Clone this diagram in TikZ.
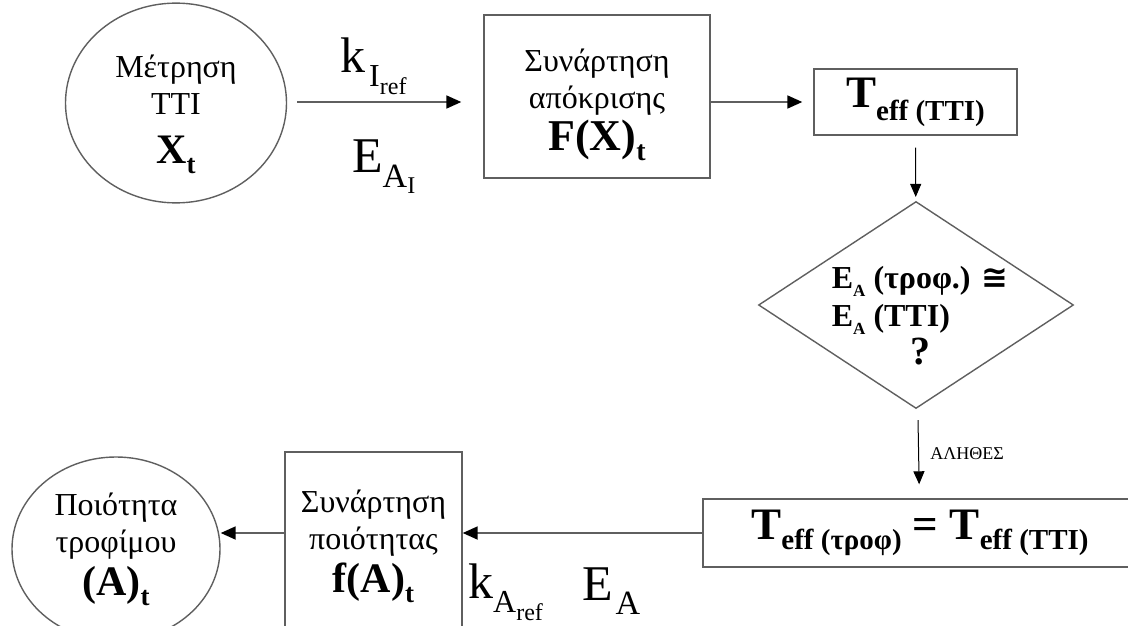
\documentclass[tikz,border=0pt]{standalone}
\usepackage{fontspec}
\setmainfont{Liberation Serif}
\newfontfamily\symfont{DejaVu Sans}
\usepackage{tikz}
\usetikzlibrary{positioning,shapes.geometric,arrows.meta}
\definecolor{edgegray}{RGB}{95,95,95}
\newcommand{\lowsub}[3]{\raisebox{-#1}{\fontsize{#2}{#2}\selectfont #3}}

\begin{document}
\begin{tikzpicture}[x=1pt,y=1pt,
  startnode/.style={ellipse,draw=edgegray,line width=1.4pt,inner sep=0pt,align=center,font=\fontsize{32}{37}\selectfont},
  funcbox/.style={rectangle,draw=edgegray,line width=1.4pt,inner sep=0pt,align=center,font=\fontsize{32}{37}\selectfont},
  check/.style={diamond,draw=edgegray,line width=1.4pt,inner sep=0pt},
  flow/.style={draw=edgegray,line width=1.8pt,-{Triangle[length=15pt,width=13pt,color=black]}},
  thinflow/.style={draw=black,line width=1pt,-{Triangle[length=13pt,width=11pt]}},
  rate/.style={anchor=base west,inner sep=0pt,font=\fontsize{50}{50}\selectfont}
]
\useasboundingbox (0,0) rectangle (1128,-626);
\clip (0,0) rectangle (1128,-626);
% top row
\node[startnode,minimum width=221pt,minimum height=177pt] (meas) at (176,-103) {\rule{0pt}{45pt}Μέτρηση\\TTI\\[12pt]{\bfseries\fontsize{42}{42}\selectfont X\lowsub{10pt}{27}{t}}};
\node[funcbox,minimum width=226pt,minimum height=163pt] (respfn) at (597,-96.5) {\rule{0pt}{39pt}Συνάρτηση\\απόκρισης\\[4pt]{\bfseries\fontsize{44}{44}\selectfont F(X)\lowsub{10pt}{28}{t}}};
\node[funcbox,minimum width=203pt,minimum height=66pt,font=\bfseries\fontsize{45}{45}\selectfont] (teffTTI) at (915.5,-102) {T\lowsub{13pt}{29}{eff (TTI)}};
\node[rate] (kI) at (340,-73) {k\kern4pt\lowsub{14pt}{32}{I\lowsub{8pt}{24}{ref}}};
\node[rate] (EI) at (352,-172) {E\lowsub{15pt}{34}{A\lowsub{6pt}{24}{I}}};
\draw[flow,shorten <=10pt,shorten >=22pt] (meas.east |- teffTTI) -- (respfn.west |- teffTTI);
\draw[flow,shorten >=11pt] (respfn.east |- teffTTI) -- (teffTTI.west);
% decision
\node[check,minimum width=315pt,minimum height=207pt,label={[font=\bfseries\fontsize{32}{38}\selectfont,yshift=-14pt,xshift=4pt]center:{\begin{tabular}{@{}l@{}}E\lowsub{8pt}{17}{A} (τροφ.) {\symfont ≅}\\E\lowsub{8pt}{17}{A} (TTI)\\\multicolumn{1}{@{}c@{}}{\fontsize{40}{40}\selectfont ?}\end{tabular}}}] (check) at (916,-305) {};
\draw[thinflow,shorten <=12pt,shorten >=4pt] (teffTTI) -- (check);
% bottom row
\node[funcbox,minimum width=434pt,minimum height=68pt,font=\bfseries\fontsize{45}{45}\selectfont] (teffEq) at (920,-533) {T\lowsub{10pt}{29}{eff (τροφ)} = T\lowsub{10pt}{29}{eff (TTI)}};
\draw[thinflow,shorten <=12pt,shorten >=14pt] (check) -- node[right=8pt,font=\fontsize{18}{18}\selectfont] (truelbl) {ΑΛΗΘΕΣ} (teffEq);
\node[funcbox,minimum width=177pt,minimum height=188pt] (qualfn) at (373.5,-546) {Συνάρτηση\\ποιότητας\\[6pt]{\bfseries\fontsize{42}{42}\selectfont f(A)\lowsub{10pt}{27}{t}}};
\node[startnode,minimum width=208pt,minimum height=184pt] (quality) at (116,-549) {Ποιότητα\\τροφίμου\\[6pt]{\bfseries\fontsize{42}{42}\selectfont (A)\lowsub{10pt}{27}{t}}};
\node[rate] (kA) at (468,-598) {k\lowsub{14pt}{32}{A\lowsub{8pt}{24}{ref}}};
\node[rate] (EA) at (582,-600) {E\kern3pt\lowsub{14pt}{34}{A}};
\draw[flow] (teffEq.west) -- (qualfn.east |- teffEq.west);
\draw[flow] (qualfn.west |- teffEq.west) -- (quality.east |- teffEq.west);
\end{tikzpicture}
\end{document}
